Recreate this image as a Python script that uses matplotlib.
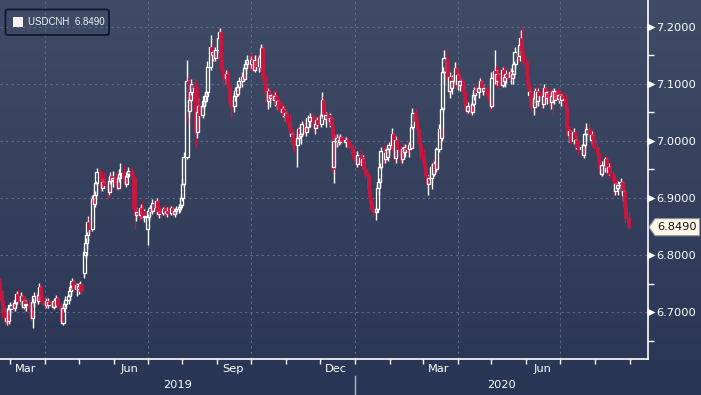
import numpy as np
import pandas as pd
import matplotlib
matplotlib.use("Agg")
import matplotlib.pyplot as plt
import matplotlib.dates as mdates
import matplotlib.ticker as mticker
import matplotlib.transforms as mtrans
from matplotlib.patches import Rectangle, Polygon, FancyBboxPatch
from matplotlib.collections import LineCollection
from matplotlib.lines import Line2D

# ---------------- data (daily candles, one line per week) ----------------
ticker_name = "USDCNH"
start_date = "2019-02-20"

open_ = [
    6.755, 6.738, 6.722,
    6.700, 6.685, 6.690, 6.684, 6.705,
    6.712, 6.708, 6.716, 6.722, 6.732,
    6.720, 6.728, 6.710, 6.720, 6.712,
    6.715, 6.710, 6.702, 6.690, 6.718,
    6.728, 6.720, 6.730, 6.745, 6.728,
    6.720, 6.712, 6.720, 6.712, 6.718,
    6.714, 6.710, 6.720, 6.715, 6.725,
    6.712, 6.705, 6.682, 6.708, 6.715,
    6.722, 6.728, 6.738, 6.745, 6.755,
    6.740, 6.748, 6.740, 6.746, 6.750,
    6.768, 6.800, 6.822, 6.835, 6.858,
    6.845, 6.898, 6.890, 6.905, 6.926,
    6.945, 6.930, 6.918, 6.928, 6.925,
    6.922, 6.910, 6.930, 6.938, 6.932,
    6.935, 6.925, 6.918, 6.935, 6.942,
    6.944, 6.935, 6.925, 6.938, 6.942,
    6.948, 6.942, 6.935, 6.880, 6.870,
    6.876, 6.870, 6.883, 6.878, 6.866,
    6.845, 6.866, 6.878, 6.880, 6.878,
    6.892, 6.884, 6.894, 6.872, 6.875,
    6.874, 6.880, 6.876, 6.873, 6.878,
    6.874, 6.882, 6.876, 6.872, 6.878,
    6.880, 6.884, 6.888, 6.900, 6.925,
    6.972, 7.105, 7.052, 7.072, 7.085,
    7.100, 7.095, 7.015, 7.050, 7.062,
    7.045, 7.062, 7.070, 7.078, 7.085,
    7.130, 7.165, 7.150, 7.155, 7.145,
    7.160, 7.180, 7.190, 7.142, 7.125,
    7.110, 7.118, 7.100, 7.092, 7.068,
    7.062, 7.078, 7.088, 7.082, 7.095,
    7.105, 7.112, 7.108, 7.128, 7.135,
    7.142, 7.135, 7.142, 7.136, 7.125,
    7.142, 7.132, 7.145, 7.130, 7.162,
    7.110, 7.085, 7.070, 7.088, 7.075,
    7.080, 7.072, 7.078, 7.065, 7.070,
    7.058, 7.050, 7.055, 7.045, 7.048,
    7.035, 7.020, 7.008, 7.012, 6.995,
    6.992, 7.005, 7.020, 7.008, 7.012,
    7.030, 7.015, 7.025, 7.040, 7.035,
    7.042, 7.030, 7.022, 7.030, 7.036,
    7.030, 7.045, 7.072, 7.048, 7.038,
    7.045, 7.035, 7.040, 7.028, 6.955,
    7.000, 7.005, 6.998, 7.002, 7.006,
    7.000, 6.998, 7.002, 7.000, 6.994,
    6.990, 6.978, 6.970, 6.968, 6.960,
    6.975, 6.972, 6.958, 6.968, 6.950,
    6.940, 6.915, 6.900, 6.892, 6.880,
    6.875, 6.880, 6.918, 6.928, 6.955,
    6.982, 6.968, 6.978, 6.972, 6.985,
    6.992, 7.012, 6.982, 6.970, 7.002,
    6.985, 6.975, 6.968, 6.985, 6.980,
    6.990, 6.985, 6.992, 6.988, 7.025,
    7.048, 7.035, 7.020, 7.008, 6.995,
    6.975, 6.962, 6.955, 6.938, 6.925,
    6.935, 6.955, 6.942, 6.960, 6.950,
    6.985, 7.020, 7.005, 7.055, 7.120,
    7.145, 7.110, 7.088, 7.112, 7.092,
    7.105, 7.128, 7.100, 7.115, 7.098,
    7.105, 7.085, 7.068, 7.058, 7.052,
    7.062, 7.050, 7.065, 7.080, 7.090,
    7.085, 7.092, 7.105, 7.095, 7.088,
    7.092, 7.082, 7.078, 7.072, 7.062,
    7.110, 7.122, 7.105, 7.118, 7.108,
    7.098, 7.125, 7.105, 7.112, 7.118,
    7.112, 7.120, 7.110, 7.118, 7.135,
    7.155, 7.148, 7.168, 7.180, 7.160,
    7.138, 7.118, 7.100, 7.080, 7.085,
    7.060, 7.075, 7.088, 7.070, 7.085,
    7.080, 7.065, 7.078, 7.092, 7.075,
    7.085, 7.068, 7.078, 7.085, 7.072,
    7.088, 7.074, 7.080, 7.072, 7.078,
    7.075, 7.060, 7.025, 7.010, 7.018,
    7.000, 7.015, 6.998, 7.002, 6.990,
    6.985, 6.990, 6.975, 6.992, 7.012,
    7.020, 7.012, 7.002, 7.010, 7.005,
    6.990, 6.978, 6.965, 6.950, 6.942,
    6.958, 6.968, 6.955, 6.945, 6.955,
    6.942, 6.930, 6.912, 6.925, 6.918,
    6.922, 6.928, 6.905, 6.912, 6.885,
    6.865,
]

high = [
    6.760, 6.745, 6.735,
    6.712, 6.708, 6.702, 6.712, 6.718,
    6.720, 6.722, 6.728, 6.738, 6.740,
    6.735, 6.732, 6.725, 6.728, 6.722,
    6.725, 6.718, 6.708, 6.725, 6.735,
    6.735, 6.735, 6.752, 6.750, 6.738,
    6.728, 6.725, 6.728, 6.725, 6.722,
    6.722, 6.725, 6.728, 6.730, 6.730,
    6.718, 6.710, 6.712, 6.720, 6.728,
    6.732, 6.742, 6.748, 6.760, 6.758,
    6.752, 6.752, 6.752, 6.755, 6.752,
    6.812, 6.830, 6.840, 6.868, 6.870,
    6.905, 6.914, 6.912, 6.930, 6.952,
    6.950, 6.940, 6.935, 6.945, 6.935,
    6.930, 6.935, 6.945, 6.945, 6.948,
    6.945, 6.932, 6.940, 6.950, 6.962,
    6.958, 6.945, 6.945, 6.948, 6.955,
    6.955, 6.950, 6.940, 6.892, 6.885,
    6.885, 6.890, 6.895, 6.888, 6.880,
    6.872, 6.885, 6.888, 6.886, 6.898,
    6.898, 6.900, 6.898, 6.882, 6.885,
    6.885, 6.888, 6.882, 6.885, 6.884,
    6.886, 6.886, 6.884, 6.882, 6.886,
    6.890, 6.892, 6.905, 6.935, 6.980,
    7.142, 7.112, 7.080, 7.092, 7.108,
    7.110, 7.105, 7.060, 7.075, 7.072,
    7.070, 7.078, 7.085, 7.090, 7.140,
    7.185, 7.170, 7.160, 7.160, 7.165,
    7.185, 7.198, 7.195, 7.150, 7.130,
    7.125, 7.125, 7.115, 7.095, 7.080,
    7.085, 7.095, 7.098, 7.100, 7.112,
    7.120, 7.125, 7.135, 7.140, 7.150,
    7.150, 7.148, 7.152, 7.145, 7.150,
    7.152, 7.150, 7.158, 7.170, 7.168,
    7.118, 7.100, 7.092, 7.095, 7.088,
    7.090, 7.085, 7.088, 7.078, 7.075,
    7.068, 7.062, 7.062, 7.055, 7.052,
    7.045, 7.028, 7.018, 7.020, 7.002,
    7.010, 7.025, 7.030, 7.018, 7.035,
    7.038, 7.030, 7.045, 7.052, 7.048,
    7.048, 7.040, 7.035, 7.042, 7.045,
    7.050, 7.086, 7.078, 7.058, 7.050,
    7.052, 7.048, 7.045, 7.035, 7.010,
    7.012, 7.010, 7.008, 7.012, 7.010,
    7.008, 7.006, 7.006, 7.005, 7.002,
    6.995, 6.985, 6.975, 6.975, 6.982,
    6.985, 6.978, 6.975, 6.972, 6.958,
    6.945, 6.922, 6.912, 6.900, 6.888,
    6.885, 6.925, 6.935, 6.962, 6.990,
    6.992, 6.985, 6.990, 6.988, 6.998,
    7.023, 7.018, 6.992, 7.008, 7.010,
    6.992, 6.985, 6.990, 6.998, 6.995,
    6.998, 6.998, 7.000, 7.030, 7.058,
    7.055, 7.045, 7.030, 7.018, 7.005,
    6.985, 6.972, 6.962, 6.945, 6.940,
    6.962, 6.968, 6.965, 6.975, 6.990,
    7.030, 7.028, 7.060, 7.130, 7.160,
    7.165, 7.130, 7.120, 7.118, 7.115,
    7.138, 7.132, 7.122, 7.125, 7.112,
    7.110, 7.090, 7.075, 7.070, 7.068,
    7.068, 7.070, 7.085, 7.095, 7.098,
    7.098, 7.110, 7.110, 7.102, 7.100,
    7.098, 7.090, 7.085, 7.080, 7.120,
    7.160, 7.132, 7.125, 7.130, 7.118,
    7.130, 7.132, 7.118, 7.125, 7.130,
    7.128, 7.132, 7.125, 7.140, 7.165,
    7.168, 7.175, 7.195, 7.198, 7.170,
    7.145, 7.125, 7.108, 7.092, 7.092,
    7.080, 7.092, 7.095, 7.092, 7.098,
    7.090, 7.085, 7.100, 7.096, 7.090,
    7.092, 7.082, 7.090, 7.092, 7.092,
    7.092, 7.085, 7.088, 7.082, 7.086,
    7.082, 7.065, 7.030, 7.025, 7.022,
    7.022, 7.020, 7.008, 7.010, 6.998,
    6.995, 6.998, 6.995, 7.018, 7.032,
    7.032, 7.020, 7.018, 7.022, 7.012,
    6.998, 6.985, 6.975, 6.962, 6.965,
    6.972, 6.975, 6.965, 6.962, 6.962,
    6.948, 6.935, 6.932, 6.935, 6.930,
    6.935, 6.932, 6.918, 6.915, 6.892,
    6.875,
]

low = [
    6.735, 6.715, 6.690,
    6.680, 6.678, 6.678, 6.680, 6.695,
    6.700, 6.702, 6.710, 6.715, 6.715,
    6.712, 6.705, 6.705, 6.700, 6.702,
    6.705, 6.695, 6.685, 6.672, 6.710,
    6.712, 6.715, 6.725, 6.722, 6.715,
    6.708, 6.708, 6.708, 6.708, 6.710,
    6.705, 6.706, 6.712, 6.710, 6.708,
    6.700, 6.680, 6.678, 6.700, 6.710,
    6.715, 6.722, 6.730, 6.740, 6.735,
    6.728, 6.735, 6.732, 6.740, 6.732,
    6.760, 6.795, 6.810, 6.825, 6.830,
    6.842, 6.880, 6.884, 6.898, 6.922,
    6.925, 6.910, 6.912, 6.918, 6.915,
    6.900, 6.905, 6.925, 6.925, 6.920,
    6.918, 6.910, 6.915, 6.928, 6.935,
    6.930, 6.920, 6.920, 6.930, 6.935,
    6.935, 6.930, 6.875, 6.845, 6.860,
    6.862, 6.865, 6.870, 6.862, 6.858,
    6.818, 6.860, 6.868, 6.870, 6.872,
    6.880, 6.878, 6.868, 6.865, 6.868,
    6.870, 6.872, 6.868, 6.866, 6.870,
    6.870, 6.872, 6.868, 6.866, 6.872,
    6.874, 6.876, 6.882, 6.895, 6.920,
    6.968, 7.030, 7.040, 7.060, 7.080,
    7.080, 6.990, 7.005, 7.040, 7.035,
    7.040, 7.055, 7.062, 7.068, 7.080,
    7.125, 7.145, 7.140, 7.140, 7.140,
    7.155, 7.165, 7.130, 7.110, 7.095,
    7.100, 7.095, 7.085, 7.060, 7.040,
    7.050, 7.070, 7.075, 7.078, 7.090,
    7.095, 7.100, 7.105, 7.118, 7.128,
    7.125, 7.128, 7.130, 7.120, 7.120,
    7.128, 7.120, 7.125, 7.122, 7.100,
    7.078, 7.062, 7.055, 7.068, 7.060,
    7.065, 7.062, 7.060, 7.055, 7.052,
    7.045, 7.042, 7.040, 7.035, 7.030,
    7.015, 7.002, 6.995, 6.988, 6.980,
    6.955, 6.998, 7.000, 6.995, 7.008,
    7.010, 7.008, 7.020, 7.030, 7.025,
    7.025, 7.015, 7.012, 7.022, 7.025,
    7.025, 7.040, 7.040, 7.030, 7.025,
    7.030, 7.025, 7.020, 6.945, 6.926,
    6.990, 6.992, 6.992, 6.995, 6.995,
    6.992, 6.990, 6.996, 6.988, 6.985,
    6.972, 6.965, 6.962, 6.955, 6.955,
    6.965, 6.955, 6.950, 6.945, 6.935,
    6.910, 6.895, 6.885, 6.875, 6.868,
    6.862, 6.875, 6.905, 6.920, 6.950,
    6.962, 6.962, 6.968, 6.965, 6.975,
    6.988, 6.975, 6.965, 6.962, 6.978,
    6.965, 6.958, 6.962, 6.975, 6.972,
    6.978, 6.972, 6.980, 6.985, 7.020,
    7.025, 7.015, 7.000, 6.990, 6.968,
    6.955, 6.945, 6.930, 6.918, 6.905,
    6.915, 6.935, 6.938, 6.945, 6.945,
    6.980, 6.995, 7.000, 7.050, 7.100,
    7.105, 7.080, 7.075, 7.085, 7.082,
    7.100, 7.095, 7.090, 7.092, 7.088,
    7.080, 7.062, 7.050, 7.045, 7.048,
    7.045, 7.046, 7.058, 7.072, 7.078,
    7.075, 7.085, 7.088, 7.082, 7.080,
    7.075, 7.070, 7.065, 7.054, 7.058,
    7.100, 7.095, 7.098, 7.100, 7.090,
    7.095, 7.100, 7.095, 7.102, 7.105,
    7.100, 7.105, 7.100, 7.112, 7.128,
    7.140, 7.140, 7.160, 7.150, 7.130,
    7.110, 7.095, 7.075, 7.060, 7.048,
    7.045, 7.068, 7.065, 7.062, 7.072,
    7.058, 7.058, 7.072, 7.070, 7.065,
    7.062, 7.055, 7.070, 7.045, 7.065,
    7.070, 7.066, 7.068, 7.062, 7.068,
    7.050, 7.020, 7.005, 6.998, 6.995,
    6.995, 6.990, 6.985, 6.985, 6.975,
    6.978, 6.970, 6.970, 6.988, 7.000,
    7.005, 6.998, 6.995, 6.998, 6.985,
    6.972, 6.960, 6.945, 6.935, 6.938,
    6.945, 6.950, 6.938, 6.940, 6.935,
    6.925, 6.905, 6.905, 6.910, 6.905,
    6.912, 6.900, 6.895, 6.880, 6.858,
    6.845,
]

close = [
    6.738, 6.722, 6.700,
    6.685, 6.690, 6.684, 6.705, 6.712,
    6.708, 6.716, 6.722, 6.732, 6.720,
    6.728, 6.710, 6.720, 6.712, 6.715,
    6.710, 6.702, 6.690, 6.718, 6.728,
    6.720, 6.730, 6.745, 6.728, 6.720,
    6.712, 6.720, 6.712, 6.718, 6.714,
    6.710, 6.720, 6.715, 6.725, 6.712,
    6.705, 6.684, 6.708, 6.715, 6.722,
    6.728, 6.738, 6.745, 6.755, 6.740,
    6.748, 6.740, 6.746, 6.750, 6.738,
    6.805, 6.822, 6.835, 6.858, 6.845,
    6.898, 6.890, 6.905, 6.926, 6.945,
    6.930, 6.918, 6.928, 6.925, 6.922,
    6.910, 6.930, 6.938, 6.932, 6.935,
    6.925, 6.918, 6.935, 6.942, 6.944,
    6.935, 6.925, 6.938, 6.942, 6.948,
    6.942, 6.935, 6.880, 6.870, 6.876,
    6.870, 6.883, 6.878, 6.866, 6.868,
    6.866, 6.878, 6.880, 6.878, 6.892,
    6.884, 6.894, 6.872, 6.875, 6.874,
    6.880, 6.876, 6.873, 6.878, 6.874,
    6.882, 6.876, 6.872, 6.878, 6.880,
    6.884, 6.888, 6.900, 6.925, 6.972,
    7.105, 7.052, 7.072, 7.085, 7.100,
    7.095, 7.015, 7.050, 7.062, 7.045,
    7.062, 7.070, 7.078, 7.085, 7.130,
    7.165, 7.150, 7.155, 7.145, 7.160,
    7.180, 7.190, 7.142, 7.125, 7.110,
    7.118, 7.100, 7.092, 7.068, 7.062,
    7.078, 7.088, 7.082, 7.095, 7.105,
    7.112, 7.108, 7.128, 7.135, 7.142,
    7.135, 7.142, 7.136, 7.125, 7.142,
    7.132, 7.145, 7.130, 7.162, 7.110,
    7.085, 7.070, 7.088, 7.075, 7.080,
    7.072, 7.078, 7.065, 7.070, 7.058,
    7.050, 7.055, 7.045, 7.048, 7.035,
    7.020, 7.008, 7.012, 6.995, 6.992,
    7.005, 7.020, 7.008, 7.012, 7.030,
    7.015, 7.025, 7.040, 7.035, 7.042,
    7.030, 7.022, 7.030, 7.036, 7.030,
    7.045, 7.072, 7.048, 7.038, 7.045,
    7.035, 7.040, 7.028, 6.950, 7.000,
    7.005, 6.998, 7.002, 7.006, 7.000,
    6.998, 7.002, 7.000, 6.994, 6.990,
    6.978, 6.970, 6.968, 6.960, 6.975,
    6.972, 6.958, 6.968, 6.950, 6.940,
    6.915, 6.900, 6.892, 6.880, 6.875,
    6.880, 6.918, 6.928, 6.955, 6.982,
    6.968, 6.978, 6.972, 6.985, 6.992,
    7.012, 6.982, 6.970, 7.002, 6.985,
    6.975, 6.968, 6.985, 6.980, 6.990,
    6.985, 6.992, 6.988, 7.025, 7.048,
    7.035, 7.020, 7.008, 6.995, 6.975,
    6.962, 6.955, 6.938, 6.925, 6.935,
    6.955, 6.942, 6.960, 6.950, 6.985,
    7.020, 7.005, 7.055, 7.120, 7.145,
    7.110, 7.088, 7.112, 7.092, 7.105,
    7.128, 7.100, 7.115, 7.098, 7.105,
    7.085, 7.068, 7.058, 7.052, 7.062,
    7.050, 7.065, 7.080, 7.090, 7.085,
    7.092, 7.105, 7.095, 7.088, 7.092,
    7.082, 7.078, 7.072, 7.062, 7.110,
    7.122, 7.105, 7.118, 7.108, 7.098,
    7.125, 7.105, 7.112, 7.118, 7.112,
    7.120, 7.110, 7.118, 7.135, 7.155,
    7.148, 7.168, 7.180, 7.160, 7.138,
    7.118, 7.100, 7.080, 7.085, 7.060,
    7.075, 7.088, 7.070, 7.085, 7.080,
    7.065, 7.078, 7.092, 7.075, 7.085,
    7.068, 7.078, 7.085, 7.072, 7.088,
    7.074, 7.080, 7.072, 7.078, 7.075,
    7.060, 7.025, 7.010, 7.018, 7.000,
    7.015, 6.998, 7.002, 6.990, 6.985,
    6.990, 6.975, 6.992, 7.012, 7.020,
    7.012, 7.002, 7.010, 7.005, 6.990,
    6.978, 6.965, 6.950, 6.942, 6.958,
    6.968, 6.955, 6.945, 6.955, 6.942,
    6.930, 6.912, 6.925, 6.918, 6.922,
    6.928, 6.905, 6.912, 6.885, 6.865,
    6.849,
]

y_ticks = [6.7, 6.8, 6.9, 7.0, 7.1, 7.2]
y_minor = [6.65, 6.75, 6.85, 6.95, 7.05, 7.15]
label_months = [3, 6, 9, 12]
grid_months = [1, 4, 7, 10]
year_labels = ["2019", "2020"]

# ---------------- styling ----------------
W, H = 701, 395
RED = "#c8173f"
WHITE = "#ffffff"
GRID = "#5d6d8a"
FS = 8.2

fig = plt.figure(figsize=(W / 100, H / 100), dpi=100)

# background gradient
bg = fig.add_axes([0, 0, 1, 1], zorder=-10)
bg.set_axis_off()
t = np.linspace(0, 1, 400)[:, None, None]
top_c = np.array([64, 75, 102]) / 255.0
bot_c = np.array([41, 53, 84]) / 255.0
grad = top_c * (1 - t) + bot_c * t
bg.imshow(grad, aspect="auto", extent=[0, 1, 0, 1], interpolation="bilinear")
bg.set_xlim(0, 1)
bg.set_ylim(0, 1)

# main axes (pixel geometry: right spine x=647.7, bottom spine y=359)
AX_R, AX_B = 647.7, 359.0
ax = fig.add_axes([0, (H - AX_B) / H, AX_R / W, AX_B / H])
ax.patch.set_visible(False)

dates = pd.bdate_range(start_date, periods=len(close))
xd = mdates.date2num(dates.to_pydatetime())
o = np.array(open_)
h = np.array(high)
l = np.array(low)
c = np.array(close)

mar1 = mdates.date2num(pd.Timestamp("2019-03-01").to_pydatetime())
px_per_day = 620.0 / 550.0
xl = (mar1 - 10.0 / px_per_day, mar1 + (AX_R - 10.0) / px_per_day)
ax.set_xlim(*xl)
ax.set_ylim(6.6182, 7.2467)

# grid
for yv in y_ticks:
    ax.axhline(yv, color=GRID, lw=0.8, ls=(0, (2, 3)), zorder=1)
gl = mdates.MonthLocator(bymonth=grid_months)
for gx in gl.tick_values(*mdates.num2date(xl)):
    if xl[0] < gx < xl[1]:
        ax.axvline(gx, color=GRID, lw=0.8, ls=(0, (2, 3)), zorder=1)

# candles
bw = 2.7  # body width in days
up = c >= o
body_lo = np.minimum(o, c)
body_hi = np.maximum(o, c)
segs, cols = [], []
for i in range(len(c)):
    col = WHITE if up[i] else RED
    if l[i] < body_lo[i]:
        segs.append([(xd[i], l[i]), (xd[i], body_lo[i])]); cols.append(col)
    if h[i] > body_hi[i]:
        segs.append([(xd[i], body_hi[i]), (xd[i], h[i])]); cols.append(col)
ax.add_collection(LineCollection(segs, colors=cols, linewidths=1.0, zorder=3))

for i in range(len(c)):
    hgt = max(body_hi[i] - body_lo[i], 0.0008)
    if up[i]:
        r = Rectangle((xd[i] - bw / 2, body_lo[i]), bw, hgt, facecolor="none",
                      edgecolor=WHITE, lw=0.95, zorder=4)
    else:
        r = Rectangle((xd[i] - bw / 2, body_lo[i]), bw, hgt, facecolor=RED,
                      edgecolor=RED, lw=0.6, zorder=4)
    ax.add_patch(r)

# spines
for s in ["top", "left"]:
    ax.spines[s].set_visible(False)
for s in ["right", "bottom"]:
    ax.spines[s].set_color(WHITE)
    ax.spines[s].set_linewidth(1.2)

# y axis on right
ax.yaxis.tick_right()
ax.set_yticks(y_ticks)
ax.set_yticklabels([f"{v:.4f}" for v in y_ticks])
ax.set_yticks(y_minor, minor=True)
ax.tick_params(axis="y", which="major", length=0, pad=6.2, labelsize=FS,
               labelcolor=WHITE)
ax.tick_params(axis="y", which="minor", length=4, width=1, color=WHITE,
               direction="out")
tri_tr = ax.get_yaxis_transform() + mtrans.ScaledTranslation(3.2 / 100, 0, fig.dpi_scale_trans)
ax.plot([1.0] * len(y_ticks), y_ticks, ls="none", marker=">", ms=5.2,
        color=WHITE, mec="none", transform=tri_tr, clip_on=False, zorder=6)

# x axis: ticks at month starts, labels mid-month for Mar/Jun/Sep/Dec
ax.xaxis.set_major_locator(mdates.MonthLocator())
ax.xaxis.set_major_formatter(mticker.NullFormatter())
lab_loc = mdates.MonthLocator(bymonth=label_months, bymonthday=15)
lab_pos = [v for v in lab_loc.tick_values(*mdates.num2date(xl)) if xl[0] < v <= xd[-1]]
ax.xaxis.set_minor_locator(mticker.FixedLocator(lab_pos))
ax.xaxis.set_minor_formatter(mdates.DateFormatter("%b"))
ax.tick_params(axis="x", which="major", length=3.5, width=1, color=WHITE,
               direction="out")
ax.tick_params(axis="x", which="minor", length=0, pad=3.5, labelsize=FS,
               labelcolor=WHITE)

# year labels and separator
jan1 = mdates.date2num(pd.Timestamp("2020-01-01").to_pydatetime())
year_pos = [(xl[0] + jan1) / 2, (jan1 + xl[1]) / 2]
for lab, xp in zip(year_labels, year_pos):
    ax.text(xp, -(385 - AX_B) / AX_B, lab, transform=ax.get_xaxis_transform(),
            ha="center", va="center", fontsize=FS, color=WHITE, clip_on=False)
sep_x = ax.transData.transform((jan1, 6.8))[0] / W
fig.add_artist(Line2D([sep_x, sep_x], [0, (H - 376) / H], color="#aeb6c4",
                      lw=1.0, transform=fig.transFigure))

# legend box
fig.add_artist(FancyBboxPatch((5.5 / W, (H - 35) / H), 103.5 / W, 25.5 / H,
                              boxstyle="round,pad=0,rounding_size=0.004",
                              transform=fig.transFigure, facecolor="none",
                              edgecolor="#111a2c", lw=1.3))
fig.add_artist(Rectangle((12.7 / W, (H - 26.7) / H), 10 / W, 9.4 / H,
                         transform=fig.transFigure, facecolor="#fdf2ef",
                         edgecolor="none"))
fig.text(28 / W, (H - 22.3) / H, f"{ticker_name}  {close[-1]:.4f}",
         fontsize=7.0, color="#f2f2f2", ha="left", va="center",
         family="Liberation Sans")

# last price tag
ytag = ax.transData.transform((xl[0], close[-1]))[1]  # pixel from bottom
tag = [(649, ytag), (655, ytag + 8.5), (699.5, ytag + 8.5), (699.5, ytag - 8.5),
       (655, ytag - 8.5)]
fig.add_artist(Polygon([(px / W, py / H) for px, py in tag], closed=True,
                       transform=fig.transFigure, facecolor="#fff6ea",
                       edgecolor="#9a9a9a", lw=0.8))
fig.text(677.5 / W, ytag / H, f"{close[-1]:.4f}", fontsize=FS, color="#111111",
         ha="center", va="center")

fig.savefig("out.png", dpi=100)
